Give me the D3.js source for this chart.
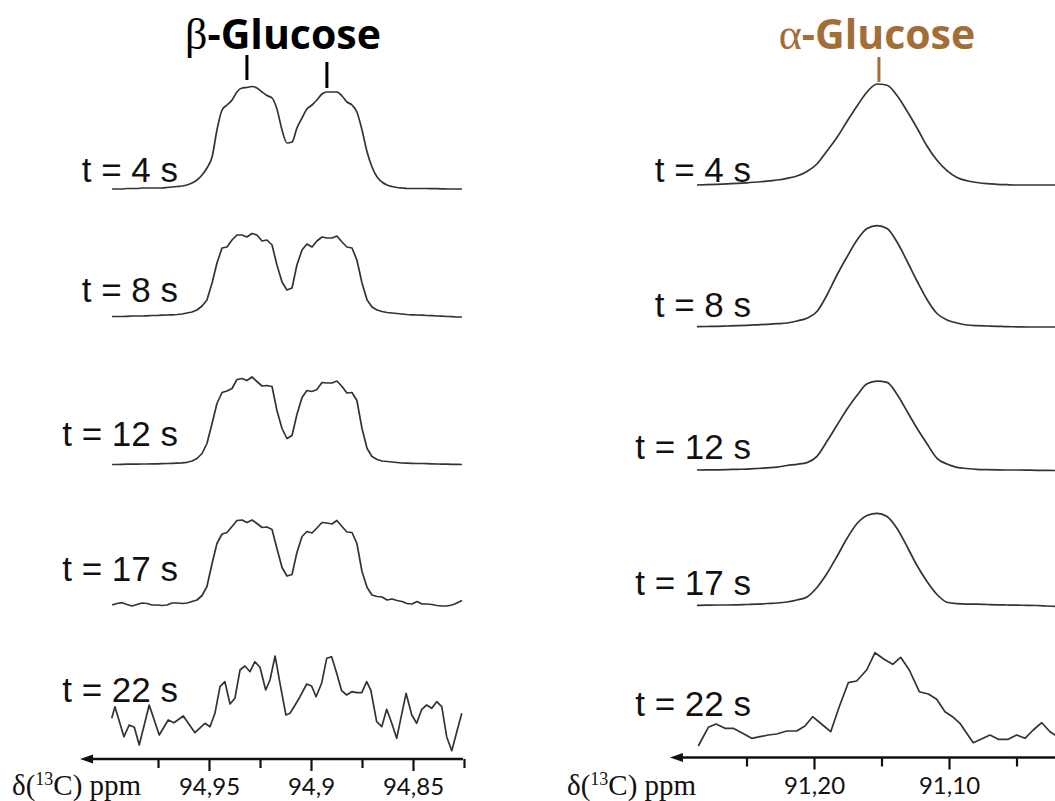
<!DOCTYPE html>
<html>
<head>
<meta charset="utf-8">
<script src="https://cdn.jsdelivr.net/npm/d3@7"></script>
<style>
  html, body { margin: 0; padding: 0; background: #fff; }
  svg { display: block; }
</style>
</head>
<body>
<svg id="chart" width="1055" height="801"></svg>
<script>
// ---------------- DATA ----------------
// beta-glucose (C1) : shared ppm grid for t = 4, 8, 12, 17 s
const betaPpm = [94.9975,94.9951,94.9926,94.9902,94.9877,94.9853,94.9828,94.9804,94.9779,94.9755,
  94.9730,94.9706,94.9681,94.9657,94.9632,94.9608,94.9583,94.9559,94.9534,94.9510,
  94.9485,94.9461,94.9436,94.9412,94.9387,94.9363,94.9338,94.9314,94.9289,94.9265,
  94.9240,94.9216,94.9191,94.9167,94.9142,94.9118,94.9093,94.9069,94.9044,94.9020,
  94.8995,94.8971,94.8946,94.8922,94.8897,94.8873,94.8848,94.8824,94.8799,94.8775,
  94.8750,94.8725,94.8701,94.8676,94.8652,94.8627,94.8603,94.8578,94.8554,94.8529,
  94.8505,94.8480,94.8456,94.8431,94.8407,94.8382,94.8358,94.8333,94.8309,94.8284,94.8260];

const betaT4 = [0,0,0,0.5,0.5,0.5,1,1,1,1,
  1,1.5,2,2.5,3,4,6,9,14,21,
  32,59,79,84,89,97,101,101.5,102.5,101,
  97,93.5,91,80,59,46,47,61,71,80,
  84,89,95,97,97,97,93,87,84,77,
  59,37,22,12,7,4,2.5,1.5,1,0.5,
  0.5,0.5,0.5,0.5,0.3,0.3,0.2,0,0,0,0];

const betaT8 = [0.5,0.5,0.5,0.7,1,1,1,1.2,1.5,1.5,
  1.8,2,2.2,2.5,3,4,5,7,11,17,
  34,54,69,70,77,82,82,80,83.5,82,
  76,77,72,52,35,27,29,52,67,73,
  70,76,80,79,79,81,75,70,69,57,
  34,17,10,7,5.5,4.5,4,3.5,3,2.5,
  2.2,2,1.8,1.5,1.3,1,0.8,0.5,0.3,0,0];

const betaT12 = [0,0,0.2,0.3,0.3,0.4,0.5,0.5,0.6,0.7,
  0.8,1,1.1,1.3,1.6,2.2,3.5,6,11,21,
  41,61,72,73.5,76,85,86,84,87.5,83,
  78.5,79,78,54,36,26,29,50,67,74,
  73,75,82,81.5,81.5,83.5,78,71.5,72,64,
  36,16,8,5,3.5,3,2.5,2,1.5,1.3,
  1.2,1,1,0.8,0.6,0.5,0.4,0.3,0.2,0.1,0];

const betaT17 = [0.5,2,2.8,1,-0.5,1,2.5,2,0.5,0.5,
  0,0.5,2.5,2.5,2,2.5,4,5.5,10,19,
  42,62,71.5,73,79,85,85.5,83,85.5,82,
  78,78.5,76,57,38,29.5,31,53,69,74,
  72.5,77.5,83,82.5,81.5,85,79,73.5,73,62,
  34,18,10.5,9,8.5,5.5,6.5,5,4,2,
  1.5,4,1.5,1.5,1,0,-0.5,-0.5,0.5,2.5,5];

// beta-glucose t = 22 s (noisy, own sampling)
const betaT22Ppm = [94.9977,94.9961,94.9917,94.9891,94.9866,94.9842,94.9793,94.9744,94.9700,94.9672,
  94.9626,94.9569,94.9520,94.9495,94.9471,94.9446,94.9422,94.9397,94.9373,94.9348,
  94.9324,94.9299,94.9275,94.9250,94.9222,94.9201,94.9176,94.9152,94.9123,94.9103,
  94.9083,94.9054,94.9021,94.8997,94.8975,94.8948,94.8923,94.8899,94.8874,94.8850,
  94.8825,94.8800,94.8776,94.8751,94.8727,94.8707,94.8678,94.8653,94.8629,94.8604,
  94.8580,94.8534,94.8506,94.8482,94.8457,94.8433,94.8408,94.8384,94.8359,94.8335,
  94.8310,94.8261];
const betaT22 = [6.7,18.3,-11.7,0,-2.3,-20,20,-10,5,2.3,
  9,-7.7,1.7,-1.7,11.7,38.3,43.3,21,26.7,55,
  59,53.3,63.3,57.7,35,45,69,41.7,10,11.7,
  18.3,28.3,41,39,28.3,41.7,66.7,68.3,51.7,34.3,
  30,33.3,32.3,32.3,43.3,35,3.3,-1.7,15.7,1.7,
  -13.3,31.7,10,1.7,15.7,20,16.7,23.3,18.3,-11.7,
  -25.7,11.7];

// alpha-glucose (C1) : shared ppm grid for t = 4, 8, 12, 17 s
const alphaPpm = [91.2867,91.2793,91.2719,91.2644,91.2570,91.2496,91.2422,91.2348,91.2274,91.2200,
  91.2126,91.2052,91.1978,91.1904,91.1830,91.1756,91.1681,91.1607,91.1533,91.1459,
  91.1385,91.1311,91.1237,91.1163,91.1089,91.1015,91.0941,91.0867,91.0793,91.0719,
  91.0644,91.0570,91.0496,91.0422,91.0348,91.0274,91.0200];

const alphaT4 = [0,0.3,0.7,1.2,1.6,2.2,3,3.8,5,6.7,
  9,13.5,21,34,47.5,63.5,79,93,101,99.7,
  89.5,74,57,39,24.7,14.3,7.5,4.2,2.5,1.3,
  0.7,0.3,0,0,0,0,0];

const alphaT8 = [0.3,0.5,0.7,1,1.3,1.7,2.2,2.7,3.3,4,
  6,8.8,15.5,32,52,70,87,98.5,101.3,98.5,
  85,66,46,27.5,13.5,7,4,2,1.3,1,
  0.7,0.3,0.2,0,0,0,0];

const alphaT12 = [0.3,0.4,0.5,0.7,1,1.2,1.8,2.5,3.2,4.8,
  6,7.7,14,29,45,61,75,86.5,89.2,88,
  76,59,42,26.5,12,6.3,3,1.8,0.9,0.6,
  0.4,0.3,0.3,0.2,0,0,-0.3];

const alphaT17 = [0,0.3,0.5,0.5,0.7,1,1.3,2,2.5,3.5,
  5.5,8.5,18,32,49,67,82,90,92.2,89,
  77,59,40,24,11,3.3,1.8,1.4,1.3,1,
  0.7,0.5,0.3,0.2,0,-0.5,-1];

// alpha-glucose t = 22 s (noisy, own sampling)
const alphaT22Ppm = [91.2857,91.2783,91.2726,91.2659,91.2598,91.2536,91.2461,91.2400,91.2339,91.2276,
  91.2202,91.2128,91.2067,91.2010,91.1936,91.1876,91.1813,91.1746,91.1684,91.1610,
  91.1548,91.1481,91.1417,91.1358,91.1294,91.1220,91.1153,91.1091,91.1030,91.0968,
  91.0919,91.0869,91.0820,91.0696,91.0635,91.0561,91.0499,91.0437,91.0376,91.0313,
  91.0252,91.0193];
const alphaT22 = [-11,7.7,11,6.7,6.7,2.3,-3.3,-1.7,0,1,
  4,4,9,18.3,10,3.3,28.3,52.3,54,65,
  82.3,75.7,70.7,77.7,65,43.3,41,35.7,23.3,17.7,
  11.7,1.7,-7.7,0,-4.3,-4.3,0,-3.3,5,12.3,
  3.3,-2];

const timeLabels = ["t = 4 s", "t = 8 s", "t = 12 s", "t = 17 s", "t = 22 s"];
const betaPeakMarks = [94.9314, 94.8922];
const alphaPeakMarks = [91.1519];
const betaTicks = [94.975, 94.95, 94.925, 94.9, 94.875, 94.85, 94.825];
const betaTickLabels = {"94.95": "94,95", "94.9": "94,9", "94.85": "94,85"};
const alphaTicks = [91.25, 91.20, 91.15, 91.10, 91.05];
const alphaTickLabels = {"91.2": "91,20", "91.1": "91,10"};

// ---------------- DRAW ----------------
const svg = d3.select("#chart");
const traceColor = "#333";
const brown = "#a36d36";

const panels = [
  {
    name: "beta",
    x: d3.scaleLinear().domain([94.95, 94.90]).range([209, 311]),
    series: [
      {ppm: betaPpm, val: betaT4, base: 189, curve: d3.curveMonotoneX},
      {ppm: betaPpm, val: betaT8, base: 317, curve: d3.curveLinear},
      {ppm: betaPpm, val: betaT12, base: 464.5, curve: d3.curveLinear},
      {ppm: betaPpm, val: betaT17, base: 605.5, curve: d3.curveLinear},
      {ppm: betaT22Ppm, val: betaT22, base: 725, curve: d3.curveLinear}
    ],
    labelX: 178,
    labelY: [182, 302, 446, 581, 702],
    axisY: 759, axisFrom: 95.0132, axisTo: 94.8255,
    ticks: betaTicks, tickLabels: betaTickLabels,
    unitX: 12
  },
  {
    name: "alpha",
    x: d3.scaleLinear().domain([91.20, 91.10]).range([814, 949]),
    series: [
      {ppm: alphaPpm, val: alphaT4, base: 185, curve: d3.curveMonotoneX},
      {ppm: alphaPpm, val: alphaT8, base: 327, curve: d3.curveMonotoneX},
      {ppm: alphaPpm, val: alphaT12, base: 470.3, curve: d3.curveMonotoneX},
      {ppm: alphaPpm, val: alphaT17, base: 605.5, curve: d3.curveMonotoneX},
      {ppm: alphaT22Ppm, val: alphaT22, base: 735, curve: d3.curveLinear}
    ],
    labelX: 751,
    labelY: [182, 317, 459, 595, 716],
    axisY: 757.5, axisFrom: 91.3067, axisTo: 91.0,
    ticks: alphaTicks, tickLabels: alphaTickLabels,
    unitX: 567
  }
];

panels.forEach(p => {
  const g = svg.append("g").attr("class", p.name);

  // traces
  p.series.forEach((s, i) => {
    const y = d3.scaleLinear().domain([0, 100]).range([s.base, s.base - 100]);
    const pts = s.ppm.map((v, k) => [v, s.val[k]]);
    const line = d3.line().x(d => p.x(d[0])).y(d => y(d[1])).curve(s.curve);
    g.append("path")
      .attr("d", line(pts))
      .attr("fill", "none")
      .attr("stroke", traceColor)
      .attr("stroke-width", 1.7)
      .attr("stroke-linejoin", "round");

    g.append("text")
      .attr("x", p.labelX)
      .attr("y", p.labelY[i])
      .attr("text-anchor", "end")
      .attr("font-family", "'Liberation Sans', Arial, sans-serif")
      .attr("font-size", 35)
      .attr("fill", "#111")
      .text(timeLabels[i]);
  });

  // axis
  const axis = d3.axisBottom(p.x)
    .tickValues(p.ticks)
    .tickSize(11)
    .tickPadding(8)
    .tickFormat(d => p.tickLabels[String(+d.toFixed(3))] || "");
  const ax = g.append("g")
    .attr("transform", `translate(0,${p.axisY})`)
    .call(axis);
  ax.select(".domain").remove();
  ax.selectAll(".tick line")
    .attr("stroke", "#111")
    .attr("stroke-width", 2.2)
    .attr("y2", d => p.tickLabels[String(+d.toFixed(3))] ? 12 : 9);
  ax.selectAll(".tick text")
    .attr("font-family", "Lato, 'Open Sans', sans-serif")
    .attr("font-size", 24)
    .attr("fill", "#111")
    .attr("dy", "0.71em");

  const x0 = p.x(p.axisFrom), x1 = p.x(p.axisTo);
  g.append("line")
    .attr("x1", x0 + 6).attr("x2", x1)
    .attr("y1", p.axisY).attr("y2", p.axisY)
    .attr("stroke", "#111").attr("stroke-width", 2.6);
  g.append("path")
    .attr("d", `M${x0},${p.axisY} L${x0 + 13},${p.axisY - 4.5} L${x0 + 13},${p.axisY + 4.5} Z`)
    .attr("fill", "#111");

  // unit label
  const ut = g.append("text")
    .attr("x", p.unitX)
    .attr("y", 795)
    .attr("font-family", "'Liberation Serif', 'Times New Roman', serif")
    .attr("font-size", 29)
    .attr("fill", "#111");
  ut.append("tspan").text("δ(");
  ut.append("tspan").attr("font-size", 18).attr("dy", -10).text("13");
  ut.append("tspan").attr("dy", 10).text("C) ppm");
});

// titles
const bt = svg.append("text")
  .attr("x", 283).attr("y", 49)
  .attr("text-anchor", "middle")
  .attr("font-family", "'Open Sans', sans-serif")
  .attr("font-size", 41)
  .attr("fill", "#000");
bt.append("tspan").attr("font-family", "'Liberation Serif', serif").attr("font-weight", "normal").attr("font-size", 44).text("β");
bt.append("tspan").attr("font-weight", "bold").text("-Glucose");

const at = svg.append("text")
  .attr("x", 877).attr("y", 49)
  .attr("text-anchor", "middle")
  .attr("font-family", "'Open Sans', sans-serif")
  .attr("font-size", 41)
  .attr("fill", brown);
at.append("tspan").attr("font-family", "'Liberation Serif', serif").attr("font-weight", "normal").attr("font-size", 44).text("α");
at.append("tspan").attr("font-weight", "bold").text("-Glucose");

// peak markers
const xb = panels[0].x, xa = panels[1].x;
svg.selectAll(".bmark").data(betaPeakMarks).enter().append("line")
  .attr("x1", d => xb(d)).attr("x2", d => xb(d))
  .attr("y1", (d, i) => i === 0 ? 55 : 62)
  .attr("y2", (d, i) => i === 0 ? 80 : 88)
  .attr("stroke", "#000").attr("stroke-width", 3);
svg.selectAll(".amark").data(alphaPeakMarks).enter().append("line")
  .attr("x1", d => xa(d)).attr("x2", d => xa(d))
  .attr("y1", 57).attr("y2", 82)
  .attr("stroke", brown).attr("stroke-width", 3);
</script>
</body>
</html>
